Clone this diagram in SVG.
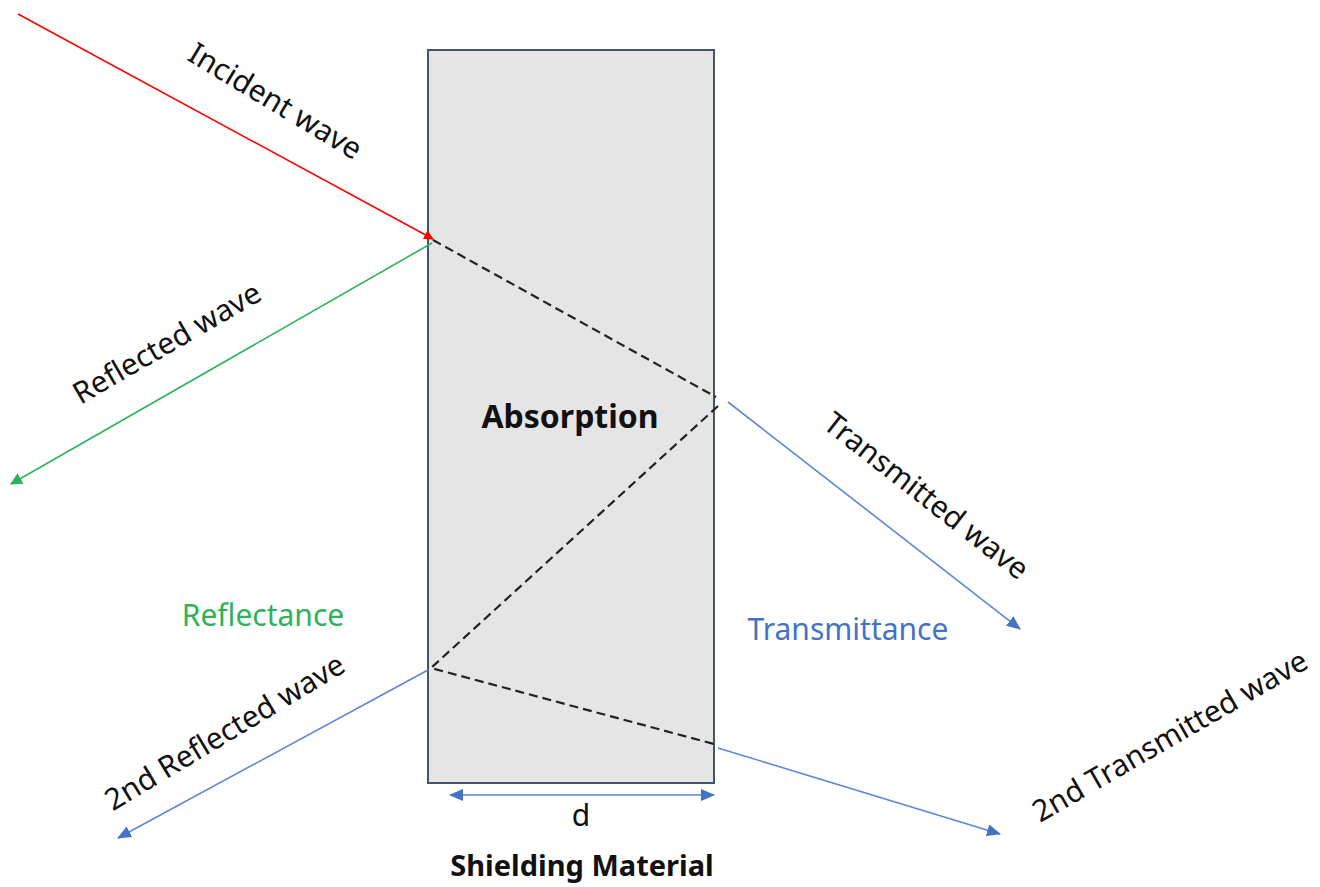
<svg xmlns="http://www.w3.org/2000/svg" width="1320" height="887" viewBox="0 0 1320 887">
<style>
text{font-family:"Noto Sans","Liberation Sans",sans-serif;font-size:30px;fill:#111;}
.b{font-weight:bold;}
.dash{stroke:#222;stroke-width:2.2;stroke-dasharray:9,5;fill:none;}
.blue{stroke:#5b87d6;stroke-width:1.6;fill:none;}
</style>
<defs>
<marker id="ar" markerWidth="10" markerHeight="10" refX="9" refY="5" orient="auto" markerUnits="userSpaceOnUse"><path d="M0,0 L10,5 L0,10 z" fill="#f00"/></marker>
<marker id="ag" markerWidth="12" markerHeight="12" refX="11" refY="6" orient="auto" markerUnits="userSpaceOnUse"><path d="M0,0 L12,6 L0,12 z" fill="#2cb35a"/></marker>
<marker id="ab" markerWidth="14" markerHeight="12" refX="13" refY="6" orient="auto" markerUnits="userSpaceOnUse"><path d="M0,0 L14,6 L0,12 z" fill="#4472c4"/></marker>
<marker id="abs" markerWidth="14" markerHeight="12" refX="1" refY="6" orient="auto" markerUnits="userSpaceOnUse"><path d="M14,0 L0,6 L14,12 z" fill="#4472c4"/></marker>
</defs>
<g id="material">
<rect x="428" y="50" width="286" height="733" fill="#e6e5e6" stroke="#44546a" stroke-width="2"/>
</g>
<g id="connectors">
<line x1="18" y1="14" x2="433" y2="239" stroke="#f00" stroke-width="1.6" marker-end="url(#ar)"/>
<line x1="432" y1="243" x2="11" y2="484" stroke="#2cb35a" stroke-width="1.6" marker-end="url(#ag)"/>
<polyline class="dash" points="433,240 716,397"/>
<polyline class="dash" points="718,406 431,668 714,744"/>
<line class="blue" x1="728" y1="402" x2="1020" y2="629" marker-end="url(#ab)"/>
<line class="blue" x1="428" y1="670" x2="118" y2="838" marker-end="url(#ab)"/>
<line class="blue" x1="718" y1="748" x2="1000" y2="834" marker-end="url(#ab)"/>
<line class="blue" x1="450" y1="795" x2="714" y2="795" marker-start="url(#abs)" marker-end="url(#ab)"/>
</g>
<g id="labels">
<text transform="translate(270,110) rotate(31)" text-anchor="middle">Incident wave</text>
<text transform="translate(172,352) rotate(-30)" text-anchor="middle">Reflected wave</text>
<text class="b" x="570" y="428" text-anchor="middle" style="font-size:32px">Absorption</text>
<text transform="translate(920,504) rotate(38)" text-anchor="middle">Transmitted wave</text>
<text x="263" y="626" text-anchor="middle" style="fill:#2cb35a">Reflectance</text>
<text x="848" y="640" text-anchor="middle" style="fill:#4472c4">Transmittance</text>
<text transform="translate(230,741) rotate(-31)" text-anchor="middle">2nd Reflected wave</text>
<text transform="translate(1175,745) rotate(-30)" text-anchor="middle">2nd Transmitted wave</text>
<text x="581" y="826" text-anchor="middle">d</text>
<text class="b" x="582" y="876" text-anchor="middle" style="font-size:29px">Shielding Material</text>
</g>
</svg>
